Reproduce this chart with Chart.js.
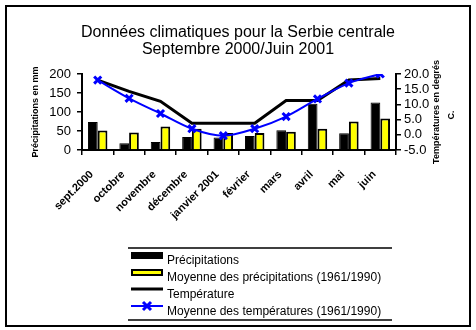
<!DOCTYPE html>
<html lang="fr">
<head>
<meta charset="utf-8">
<title>Données climatiques pour la Serbie centrale</title>
<script src="https://cdn.jsdelivr.net/npm/chart.js@4/dist/chart.umd.min.js"></script>
<style>
  html, body { margin: 0; padding: 0; background: #fff; }
  #wrap { width: 476px; height: 330px; }
</style>
</head>
<body>
<div id="wrap"><canvas id="c" width="476" height="330"></canvas></div>
<script>
// Months of the 2000/2001 season
const categories = ['sept.2000', 'octobre', 'novembre', 'décembre', 'janvier 2001',
                    'février', 'mars', 'avril', 'mai', 'juin'];
// Precipitation, mm
const precipitations = [74, 18, 21, 34, 33, 37, 52, 122, 44, 125];
const precipMoyenne  = [51, 46, 62, 56, 45, 45, 48, 56, 75, 83];
// Temperature, °C
const temperature = [18, 14.3, 11, 3.8, 3.8, 3.8, 11.3, 11.3, 18, 18.5];
const tempMoyenne = [18, 12, 7, 2, -0.3, 2, 6, 11.8, 17, 20];
// Axis ranges
const precipTicks = [0, 50, 100, 150, 200];
const tempTicks = [-5, 0, 5, 10, 15, 20];

const titleLines = ['Données climatiques pour la Serbie centrale', 'Septembre 2000/Juin 2001'];
const leftTitle = 'Précipitations en mm';
const rightTitle = ['Températures en degrés', 'C.'];

const FONT = "'Liberation Sans', Arial, Helvetica, sans-serif";

// Frame, title, axis titles and the stacked legend
const decorations = {
  id: 'decorations',
  afterDraw(chart) {
    const ctx = chart.ctx;
    const area = chart.chartArea;
    ctx.save();
    ctx.strokeStyle = '#000';
    ctx.lineWidth = 2;
    ctx.strokeRect(6, 6, 464, 320);

    ctx.fillStyle = '#000';
    ctx.font = '16px ' + FONT;
    ctx.textAlign = 'center';
    ctx.textBaseline = 'alphabetic';
    ctx.fillText(titleLines[0], 238, 37);
    ctx.fillText(titleLines[1], 238, 54);

    const midY = (area.top + area.bottom) / 2;
    ctx.font = 'bold 9px ' + FONT;
    ctx.textBaseline = 'middle';
    ctx.save();
    ctx.translate(36, midY);
    ctx.rotate(-Math.PI / 2);
    ctx.fillText(leftTitle, 0, 0);
    ctx.restore();
    ctx.save();
    ctx.translate(437, midY);
    ctx.rotate(-Math.PI / 2);
    ctx.fillText(rightTitle[0], 0, 0);
    ctx.restore();
    ctx.save();
    ctx.translate(452, midY + 3);
    ctx.rotate(-Math.PI / 2);
    ctx.fillText(rightTitle[1], 0, 0);
    ctx.restore();

    // Legend
    const lx0 = 128, lx1 = 392, top = 248, bottom = 320;
    ctx.lineWidth = 1.5;
    ctx.beginPath();
    ctx.moveTo(lx0, top); ctx.lineTo(lx1, top);
    ctx.moveTo(lx0, bottom); ctx.lineTo(lx1, bottom);
    ctx.stroke();

    const sx = 131, sw = 32, tx = 167;
    const rows = [255, 272, 289, 306];
    ctx.font = '12px ' + FONT;
    ctx.textAlign = 'left';
    ctx.textBaseline = 'alphabetic';
    chart.data.datasets.forEach((ds, i) => {
      const y = rows[i];
      if (ds.type === 'bar') {
        ctx.fillStyle = ds.backgroundColor;
        ctx.fillRect(sx, y - 3, sw, 7);
        ctx.strokeStyle = '#000';
        ctx.lineWidth = 2;
        ctx.strokeRect(sx + 1, y - 2, sw - 2, 5);
      } else {
        ctx.strokeStyle = ds.borderColor;
        ctx.lineWidth = ds.legendWidth;
        ctx.beginPath();
        ctx.moveTo(sx, y); ctx.lineTo(sx + sw, y);
        ctx.stroke();
        if (ds.pointStyle === 'crossRot') {
          ctx.lineWidth = 3;
          const cx = sx + sw / 2, r = 4;
          ctx.beginPath();
          ctx.moveTo(cx - r, y - r); ctx.lineTo(cx + r, y + r);
          ctx.moveTo(cx - r, y + r); ctx.lineTo(cx + r, y - r);
          ctx.stroke();
        }
      }
      ctx.fillStyle = '#000';
      ctx.fillText(ds.label, tx, y + 9);
    });
    ctx.restore();
  }
};

const axisGrid = { drawOnChartArea: false, color: '#000', lineWidth: 1.5, tickLength: 5 };
const axisBorder = { color: '#000', width: 2 };

new Chart(document.getElementById('c'), {
  data: {
    labels: categories,
    datasets: [
      { type: 'bar', label: 'Précipitations', data: precipitations, yAxisID: 'y',
        backgroundColor: '#000000', borderColor: '#000', borderWidth: 1,
        categoryPercentage: 0.62, barPercentage: 1, order: 2 },
      { type: 'bar', label: 'Moyenne des précipitations (1961/1990)', data: precipMoyenne, yAxisID: 'y',
        backgroundColor: '#ffff00', borderColor: '#000', borderWidth: 2,
        categoryPercentage: 0.62, barPercentage: 1, order: 3 },
      { type: 'line', label: 'Température', data: temperature, yAxisID: 'y1',
        borderColor: '#000', borderWidth: 3, legendWidth: 3, pointRadius: 0, tension: 0,
        fill: false, order: 1 },
      { type: 'line', label: 'Moyenne des températures (1961/1990)', data: tempMoyenne, yAxisID: 'y1',
        borderColor: '#0000ff', borderWidth: 2, legendWidth: 2,
        pointStyle: 'crossRot', pointRadius: 5, pointBorderWidth: 3,
        pointBorderColor: '#0000ff', pointBackgroundColor: '#0000ff',
        cubicInterpolationMode: 'monotone', fill: false, order: 0 }
    ]
  },
  options: {
    responsive: false,
    animation: false,
    devicePixelRatio: 1,
    layout: { padding: { top: 74, left: 0, right: 0, bottom: 0 } },
    plugins: { legend: { display: false }, title: { display: false }, tooltip: { enabled: false } },
    scales: {
      x: {
        offset: true,
        grid: Object.assign({ offset: true }, axisGrid),
        border: axisBorder,
        ticks: { color: '#000', font: { family: FONT, size: 11, weight: 'bold' },
                 minRotation: 45, maxRotation: 45, autoSkip: false, padding: 13, labelOffset: -6 },
        afterFit(s) { s.height = 180; }
      },
      y: {
        position: 'left',
        min: precipTicks[0], max: precipTicks[precipTicks.length - 1],
        grid: axisGrid, border: axisBorder,
        ticks: { stepSize: precipTicks[1] - precipTicks[0], color: '#000', autoSkip: false,
                 font: { family: FONT, size: 13 }, padding: 6 },
        afterFit(s) { s.width = 82; }
      },
      y1: {
        position: 'right',
        min: tempTicks[0], max: tempTicks[tempTicks.length - 1],
        grid: axisGrid, border: axisBorder,
        ticks: { stepSize: tempTicks[1] - tempTicks[0], color: '#000', autoSkip: false,
                 font: { family: FONT, size: 13 }, padding: 3,
                 callback: v => Number(v).toFixed(1) },
        afterFit(s) { s.width = 80; }
      }
    }
  },
  plugins: [decorations]
});
</script>
</body>
</html>
